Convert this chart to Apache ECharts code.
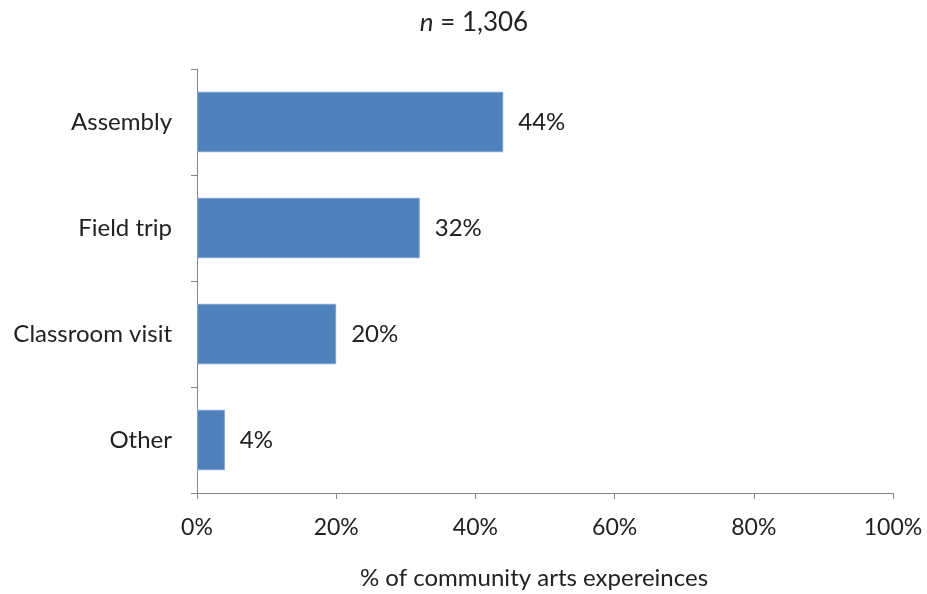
<!DOCTYPE html>
<html>
<head>
<meta charset="utf-8">
<script src="https://cdn.jsdelivr.net/npm/echarts@6/dist/echarts.min.js"></script>
<style>
  html, body { margin: 0; padding: 0; background: #fff; }
  #chart { width: 927px; height: 594px; }
</style>
</head>
<body>
<div id="chart"></div>
<script>
// Share of community arts experiences by type
const categories = ['Assembly', 'Field trip', 'Classroom visit', 'Other'];
const shares = [44, 32, 20, 4];
const sampleSize = '1,306';

const FONT = 'Lato, "Open Sans", sans-serif';
const TEXT = '#222';
const AXIS = '#868686';

const chart = echarts.init(document.getElementById('chart'));
chart.setOption({
  animation: false,
  title: {
    text: '{i|n} = ' + sampleSize,
    left: 469,
    textAlign: 'center',
    top: 5,
    textStyle: {
      rich: {
        i: { fontStyle: 'italic', fontFamily: FONT, fontSize: 26, color: TEXT }
      },
      fontFamily: FONT, fontSize: 26, fontWeight: 'normal', color: TEXT
    }
  },
  grid: { left: 197, right: 34, top: 69, bottom: 101, outerBoundsMode: 'none', containLabel: false },
  xAxis: {
    type: 'value',
    min: 0, max: 100, interval: 20,
    name: '% of community arts expereinces',
    nameLocation: 'middle',
    nameGap: 73,
    nameTextStyle: { fontFamily: FONT, fontSize: 24, color: TEXT, padding: [0, 22, 0, 0] },
    axisLine: { show: true, lineStyle: { color: AXIS, width: 1 } },
    axisTick: { show: true, length: 6, lineStyle: { color: AXIS } },
    axisLabel: { formatter: '{value}%', fontFamily: FONT, fontSize: 23, color: TEXT, margin: 23 },
    splitLine: { show: false }
  },
  yAxis: {
    type: 'category',
    data: categories,
    inverse: true,
    axisLine: { show: true, lineStyle: { color: AXIS, width: 1 } },
    axisTick: { show: true, length: 6, lineStyle: { color: AXIS } },
    axisLabel: { fontFamily: FONT, fontSize: 24, color: TEXT, margin: 25 }
  },
  series: [{
    type: 'bar',
    data: shares,
    barCategoryGap: '43%',
    itemStyle: { color: '#4F81BD', borderColor: '#7FA3D0', borderWidth: 1 },
    label: {
      show: true,
      position: 'right',
      distance: 15,
      formatter: '{c}%',
      fontFamily: FONT, fontSize: 24, color: TEXT
    }
  }]
});
</script>
</body>
</html>
